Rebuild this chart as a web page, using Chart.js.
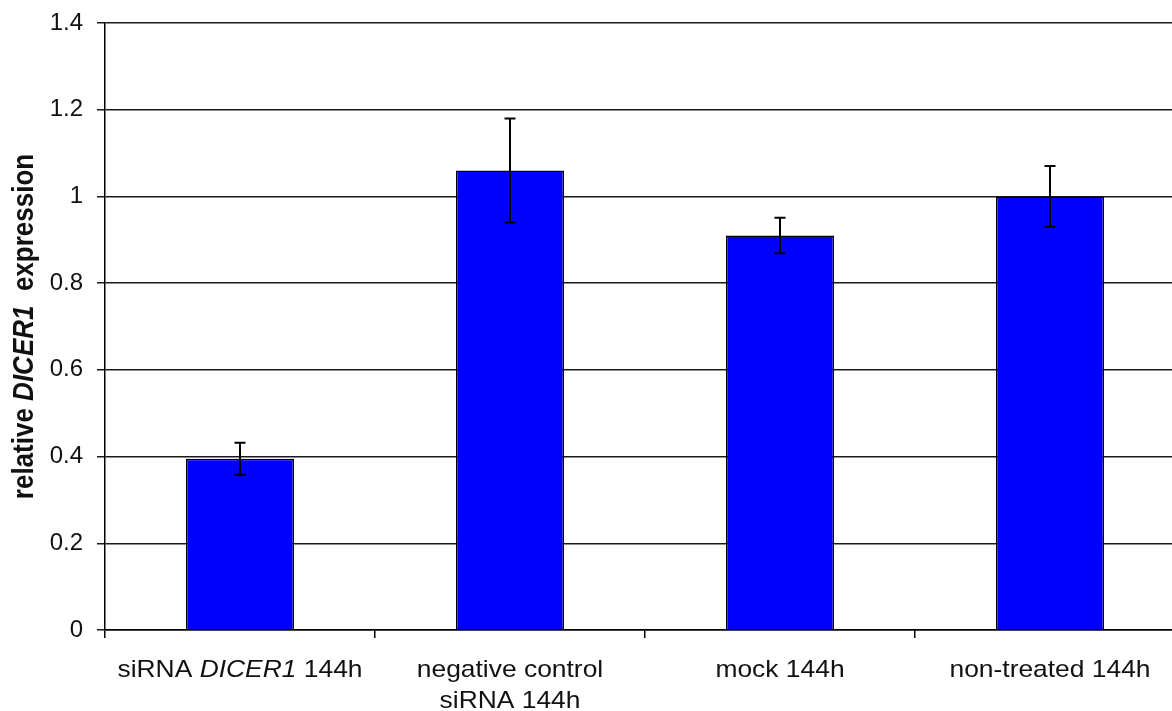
<!DOCTYPE html>
<html>
<head>
<meta charset="utf-8">
<script src="https://cdn.jsdelivr.net/npm/chart.js@4.4.1/dist/chart.umd.min.js"></script>
<style>
  html, body { margin: 0; padding: 0; background: #ffffff; overflow: hidden; }
  #wrap { position: relative; width: 1190px; height: 711px; }
</style>
</head>
<body>
<div id="wrap"><canvas id="chart"></canvas></div>
<script>
// Category labels; text between asterisks is set in italics (gene symbol).
const categoryLines = [
  ['siRNA *DICER1* 144h'],
  ['negative control', 'siRNA 144h'],
  ['mock 144h'],
  ['non-treated 144h']
];
// Mean relative expression and error (± SD)
const expression = [0.395, 1.06, 0.91, 1.0];
const errorSD = [0.037, 0.12, 0.041, 0.07];
// Y axis tick values and labels
const yTickValues = [0, 0.2, 0.4, 0.6, 0.8, 1, 1.2, 1.4];
const yTickLabels = ['0', '0.2', '0.4', '0.6', '0.8', '1', '1.2', '1.4'];
// Axis title, italic part marked as above
const yTitle = 'relative *DICER1*  expression';

const FONT = '"Liberation Sans", Arial, Helvetica, sans-serif';
const INK = '#111111';

// Split "a *b* c" into [{text, italic}] runs
function parseRuns(str) {
  const parts = str.split('*');
  return parts.map((t, i) => ({ text: t, italic: i % 2 === 1 })).filter(r => r.text.length);
}

// Draw mixed roman/italic text centred on (0, 0) of the current transform
function drawRuns(ctx, str, size, bold, baseline) {
  const runs = parseRuns(str);
  const fontFor = r => (r.italic ? 'italic ' : '') + (bold ? 'bold ' : '') + size + 'px ' + FONT;
  let total = 0;
  runs.forEach(r => { ctx.font = fontFor(r); r.w = ctx.measureText(r.text).width; total += r.w; });
  let x = -total / 2;
  ctx.textAlign = 'left';
  ctx.textBaseline = baseline;
  runs.forEach(r => { ctx.font = fontFor(r); ctx.fillText(r.text, x, 0); x += r.w; });
}

const decorations = {
  id: 'decorations',
  afterDatasetsDraw(chart) {
    const ctx = chart.ctx;
    const xs = chart.scales.x, ys = chart.scales.y;
    ctx.save();
    // error bars
    ctx.strokeStyle = '#000000';
    ctx.lineWidth = 2;
    expression.forEach((v, i) => {
      const x = xs.getPixelForValue(i);
      const yTop = ys.getPixelForValue(v + errorSD[i]);
      const yBot = ys.getPixelForValue(v - errorSD[i]);
      ctx.beginPath();
      ctx.moveTo(x, yTop); ctx.lineTo(x, yBot);
      ctx.moveTo(x - 5.5, yTop); ctx.lineTo(x + 5.5, yTop);
      ctx.moveTo(x - 5.5, yBot); ctx.lineTo(x + 5.5, yBot);
      ctx.stroke();
    });
    ctx.restore();
  },
  afterDraw(chart) {
    const ctx = chart.ctx;
    const xs = chart.scales.x;
    const area = chart.chartArea;
    ctx.fillStyle = INK;
    // category labels (slightly wide set)
    categoryLines.forEach((lines, i) => {
      const x = xs.getPixelForValue(i);
      lines.forEach((line, k) => {
        ctx.save();
        ctx.translate(x, area.bottom + 47 + k * 31);
        ctx.scale(1.1, 1);
        drawRuns(ctx, line, 24, false, 'alphabetic');
        ctx.restore();
      });
    });
    // rotated y axis title
    ctx.save();
    ctx.translate(33, (area.top + area.bottom) / 2);
    ctx.rotate(-Math.PI / 2);
    ctx.scale(1, 1.15);
    drawRuns(ctx, yTitle, 26, true, 'alphabetic');
    ctx.restore();
  }
};

new Chart(document.getElementById('chart'), {
  type: 'bar',
  data: {
    labels: categoryLines.map(l => l.join(' ').replace(/\*/g, '')),
    datasets: [{
      data: expression,
      backgroundColor: '#0000ff',
      borderColor: '#000000',
      borderWidth: 1.5,
      borderSkipped: 'bottom',
      barPercentage: 0.4,
      categoryPercentage: 1.0
    }]
  },
  options: {
    responsive: true,
    maintainAspectRatio: false,
    animation: false,
    layout: { padding: { top: 23, right: 5, left: 0, bottom: 0 } },
    plugins: { legend: { display: false }, tooltip: { enabled: false } },
    scales: {
      x: {
        offset: true,
        grid: {
          display: true,
          offset: true,
          drawOnChartArea: false,
          drawTicks: true,
          tickLength: 8,
          color: '#000000',
          lineWidth: 1.5
        },
        border: { display: true, color: '#000000', width: 1.5 },
        ticks: { display: false },
        afterFit(scale) {
          scale.height = 81;
          scale.paddingLeft = 0; scale.paddingRight = 0;
        }
      },
      y: {
        min: 0,
        max: 1.4,
        afterBuildTicks(scale) { scale.ticks = yTickValues.map(v => ({ value: v })); },
        grid: {
          color: '#1a1a1a',
          lineWidth: 1.5,
          drawTicks: true,
          tickLength: 8
        },
        border: { display: true, color: '#000000', width: 1.5 },
        ticks: {
          padding: 14,
          color: INK,
          font: { family: FONT, size: 24 },
          callback: (v, i) => yTickLabels[i]
        },
        afterFit(scale) {
          scale.width = 105;
          scale.paddingTop = 0; scale.paddingBottom = 0;
        }
      }
    }
  },
  plugins: [decorations]
});
</script>
</body>
</html>
